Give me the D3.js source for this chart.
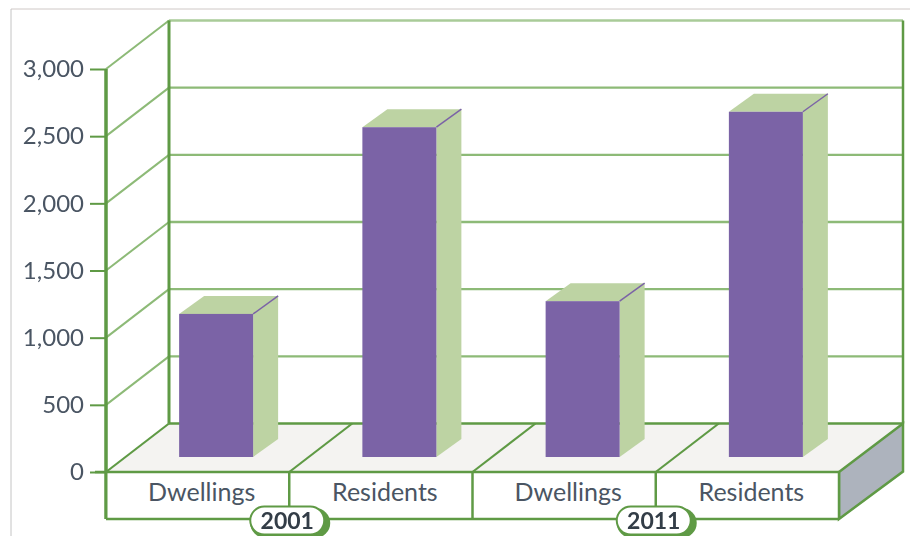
<!DOCTYPE html>
<html>
<head>
<meta charset="utf-8">
<script src="https://cdn.jsdelivr.net/npm/d3@7"></script>
<style>
  html, body { margin: 0; padding: 0; background: #fff; overflow: hidden; }
  svg { display: block; filter: blur(0.6px); }
  text { font-family: "Lato", "Open Sans", sans-serif; }
</style>
</head>
<body>
<script>
const WIDTH = 910;
const HEIGHT = 536;

// values
const categories = ['Dwellings', 'Residents', 'Dwellings', 'Residents'];
const barValues = [1065, 2455, 1160, 2570];
const years = ['2001', '2011'];
const ticks = [0, 500, 1000, 1500, 2000, 2500, 3000];

const GREEN = '#5f9a45';
const GRID = '#8dba77';
const PURPLE = '#7b63a6';
const SIDE = '#bdd3a3';

// front plane of the box
const plotLeft = 106, plotRight = 839, base = 472, plotTop = 69, plinth = 47;
// how far the back wall is shifted from the front
const depthX = 63, depthY = 48.5;
// bars stand part way into the floor
const barLift = 15, barDx = 25, barDy = 18, barWidth = 74, barShift = 18.5;

let svg = d3.select('body').append('svg')
  .attr('width', WIDTH)
  .attr('height', HEIGHT);

let x = d3.scaleBand().domain(d3.range(categories.length)).range([plotLeft, plotRight]);
let y = d3.scaleLinear().domain([0, 3000]).range([base, plotTop]);
let yearX = d3.scaleBand().domain(years).range([plotLeft, plotRight]);

const poly = pts => pts.map(p => p.join(',')).join(' ');
const line = (x1, y1, x2, y2, color, w) => svg.append('line')
  .attr('x1', x1).attr('y1', y1).attr('x2', x2).attr('y2', y2)
  .attr('stroke', color).attr('stroke-width', w);

// picture frame
line(11, 9, WIDTH, 9, '#cfc8c6', 1);
line(11, 9, 11, HEIGHT, '#c4c4c4', 1);

// floor and box
svg.append('polygon')
  .attr('points', poly([[plotLeft, base], [plotRight, base], [plotRight + depthX + 1, base - depthY], [plotLeft + depthX, base - depthY]]))
  .attr('fill', '#f4f3f1');
svg.append('polygon')
  .attr('points', poly([[plotRight, base], [plotRight + depthX + 1, base - depthY], [plotRight + depthX + 1, base - depthY + plinth + 1], [plotRight, base + plinth]]))
  .attr('fill', '#adb3bd')
  .attr('stroke', GREEN).attr('stroke-width', 2.5);

// grid: side wall diagonals and back wall lines
ticks.forEach(t => {
  if (t > 0) {
    line(plotLeft, y(t), plotLeft + depthX, y(t) - depthY, GRID, 2);
    line(plotLeft + depthX, y(t) - depthY, plotRight + depthX + 1, y(t) - depthY, t === 3000 ? '#a9cb98' : GRID, 2.4);
  }
});

// walls
line(plotLeft + depthX, y(3000) - depthY, plotLeft + depthX, base - depthY, GREEN, 3);
line(plotRight + depthX + 1, y(3000) - depthY, plotRight + depthX + 1, base - depthY, GREEN, 2.5);
line(plotLeft + depthX, base - depthY, plotRight + depthX + 1, base - depthY, GREEN, 2.5);
line(plotLeft, y(3000), plotLeft, base + plinth, GREEN, 3);

// floor dividers
d3.range(categories.length).forEach(i => {
  line(x(i), base, x(i) + depthX, base - depthY, GREEN, 2.2);
});

// bars
barValues.forEach((v, i) => {
  let bx = x(i) + x.bandwidth() / 2 + barShift - barWidth / 2;
  let by = y(v) - barLift;
  let by0 = y(0) - barLift;
  svg.append('polygon')
    .attr('points', poly([[bx + barWidth, by], [bx + barWidth + barDx, by - barDy], [bx + barWidth + barDx, by0 - barDy], [bx + barWidth, by0]]))
    .attr('fill', SIDE);
  svg.append('polygon')
    .attr('points', poly([[bx, by], [bx + barDx, by - barDy], [bx + barWidth + barDx, by - barDy], [bx + barWidth, by]]))
    .attr('fill', SIDE);
  svg.append('rect')
    .attr('x', bx).attr('y', by)
    .attr('width', barWidth).attr('height', by0 - by)
    .attr('fill', PURPLE);
  line(bx + barWidth, by, bx + barWidth + barDx, by - barDy, PURPLE, 1.5);
});

// front plate
svg.append('rect')
  .attr('x', plotLeft).attr('y', base)
  .attr('width', plotRight - plotLeft).attr('height', plinth)
  .attr('fill', '#fff');
line(plotLeft - 11, base, plotRight, base, GREEN, 2.5);
line(plotLeft, base + plinth, plotRight, base + plinth, GREEN, 2.5);
line(plotRight, base, plotRight, base + plinth, GREEN, 2.5);
d3.range(1, categories.length).forEach(i => line(x(i), base, x(i), base + plinth, GREEN, 2.5));
line(plotLeft, y(3000), plotLeft, base + plinth, GREEN, 3);

svg.selectAll('.cat').data(categories).enter().append('text')
  .attr('class', 'cat')
  .attr('x', (d, i) => x(i) + x.bandwidth() / 2 + 4)
  .attr('y', base + 29)
  .attr('text-anchor', 'middle')
  .attr('font-size', 25)
  .attr('fill', '#4a5563')
  .text(d => d);

// y axis through d3.axisLeft
let yAxis = svg.append('g')
  .attr('transform', `translate(${plotLeft},0)`)
  .call(d3.axisLeft(y).tickValues(ticks).tickSize(16).tickPadding(6).tickFormat(d3.format(',')));
yAxis.select('.domain').remove();
yAxis.selectAll('line').attr('stroke', GREEN).attr('stroke-width', 2);
yAxis.selectAll('text')
  .attr('font-size', 24)
  .attr('fill', '#4a5563');

// year pills
years.forEach(yr => {
  let cx = yearX(yr) + yearX.bandwidth() / 2 - 1;
  svg.append('rect')
    .attr('x', cx - 38).attr('y', 508)
    .attr('width', 80).attr('height', 30).attr('rx', 15)
    .attr('fill', GREEN);
  svg.append('rect')
    .attr('x', cx - 38).attr('y', 506.5)
    .attr('width', 74).attr('height', 28).attr('rx', 14)
    .attr('fill', '#fff')
    .attr('stroke', GREEN).attr('stroke-width', 2);
  svg.append('text')
    .attr('x', cx - 1).attr('y', 529)
    .attr('text-anchor', 'middle')
    .attr('font-size', 23)
    .attr('font-weight', 700)
    .attr('fill', '#333d47')
    .text(yr);
});
</script>
</body>
</html>
